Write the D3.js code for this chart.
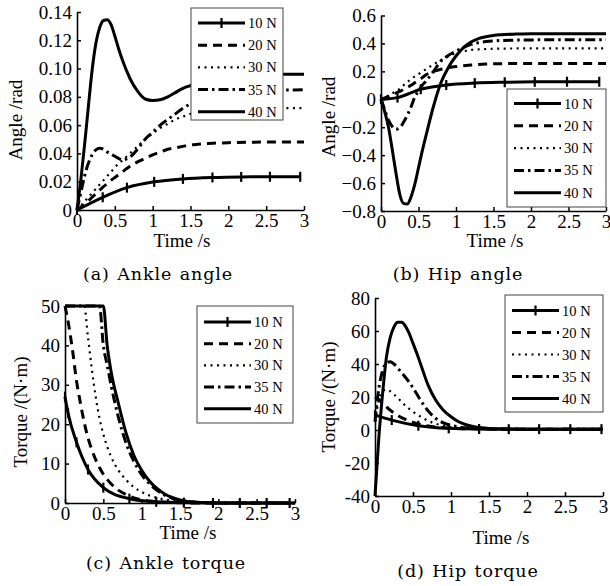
<!DOCTYPE html>
<html>
<head>
<meta charset="utf-8">
<script src="https://cdnjs.cloudflare.com/ajax/libs/d3/7.8.5/d3.min.js"></script>
<style>
    body { margin: 0; background: #fff; }
    svg { display: block; }
    .tick text { font-family: 'Liberation Serif', 'Times New Roman', serif; font-size: 19px; fill: #000; }
    .axis-label { font-family: 'Liberation Serif', 'Times New Roman', serif; font-size: 19px; fill: #000; }
    .legend-label { font-family: 'Liberation Serif', 'Times New Roman', serif; font-size: 14.5px; fill: #000; }
    .caption { font-family: 'DejaVu Serif', serif; font-size: 17.5px; letter-spacing: 0.9px; word-spacing: 1px; fill: #000; }
</style>
</head>
<body>
<svg id="fig" width="610" height="586"></svg>
<script>
/* ============================================================
   Joint angles and torques for five push forces
   ============================================================ */

const forces = ['10 N', '20 N', '30 N', '35 N', '40 N'];
const timeTicks = [0, 0.5, 1, 1.5, 2, 2.5, 3];

// shared time grid (s) for the 20 N .. 40 N curves
const timeGrid = [0, 0.05, 0.1, 0.15, 0.2, 0.25, 0.3, 0.35, 0.4, 0.45, 0.5, 0.55, 0.6,
    0.7, 0.8, 0.9, 1.0, 1.1, 1.2, 1.3, 1.4, 1.5, 1.6, 1.8, 2.0, 2.5, 3.0];

// --- (a) ankle angle, rad ---
const ankleAngleTicks = [0, 0.02, 0.04, 0.06, 0.08, 0.10, 0.12, 0.14];
const ankleAngle10t = [0, 0.34, 0.66, 1.02, 1.4, 1.79, 2.17, 2.55, 2.95];
const ankleAngle10 = [0, 0.009, 0.0158, 0.0199, 0.022, 0.023, 0.0234, 0.0235, 0.0235];
const ankleAngle20 = [0, 0.002, 0.004, 0.0065, 0.009, 0.0115, 0.014, 0.0165, 0.0186, 0.021, 0.023, 0.025, 0.027,
    0.031, 0.034, 0.0365, 0.039, 0.041, 0.043, 0.044, 0.045, 0.046, 0.0465, 0.0472, 0.0476, 0.048, 0.048];
const ankleAngle30 = [0, 0.003, 0.006, 0.009, 0.012, 0.015, 0.018, 0.021, 0.024, 0.027, 0.030, 0.033, 0.035,
    0.040, 0.045, 0.050, 0.054, 0.058, 0.061, 0.064, 0.066, 0.068, 0.069, 0.0705, 0.0715, 0.072, 0.072];
const ankleAngle35 = [0, 0.012, 0.024, 0.033, 0.039, 0.0425, 0.0437, 0.043, 0.041, 0.0395, 0.038, 0.0365, 0.0355,
    0.0375, 0.043, 0.050, 0.055, 0.060, 0.064, 0.068, 0.072, 0.075, 0.078, 0.081, 0.083, 0.0845, 0.085];
const ankleAngle40 = [0, 0.021, 0.046, 0.073, 0.099, 0.118, 0.129, 0.134, 0.1345, 0.131, 0.123, 0.114, 0.106,
    0.093, 0.084, 0.0785, 0.0775, 0.078, 0.080, 0.083, 0.086, 0.088, 0.090, 0.093, 0.095, 0.096, 0.096];

// --- (b) hip angle, rad ---
const hipAngleTicks = [-0.8, -0.6, -0.4, -0.2, 0, 0.2, 0.4, 0.6];
const hipAngle10t = [0, 0.22, 0.53, 0.87, 1.25, 1.65, 2.05, 2.48, 2.91];
const hipAngle10 = [0, 0.012, 0.072, 0.102, 0.116, 0.122, 0.125, 0.126, 0.126];
const hipAngle20 = [0, 0.01, 0.02, 0.032, 0.045, 0.057, 0.07, 0.085, 0.1, 0.118, 0.136, 0.155, 0.175,
    0.2, 0.215, 0.226, 0.234, 0.24, 0.245, 0.249, 0.252, 0.254, 0.255, 0.256, 0.257, 0.257, 0.257];
const hipAngle30 = [0, 0.012, 0.027, 0.042, 0.058, 0.075, 0.1, 0.122, 0.145, 0.163, 0.18, 0.2, 0.215,
    0.25, 0.28, 0.308, 0.33, 0.344, 0.353, 0.358, 0.36, 0.362, 0.363, 0.364, 0.365, 0.365, 0.365];
const hipAngle35 = [0, -0.077, -0.15, -0.195, -0.215, -0.205, -0.165, -0.115, -0.055, 0.015, 0.06, 0.1, 0.13,
    0.2, 0.275, 0.315, 0.345, 0.372, 0.393, 0.405, 0.413, 0.418, 0.421, 0.424, 0.425, 0.427, 0.427];
const hipAngle40 = [0, -0.09, -0.2, -0.36, -0.53, -0.68, -0.745, -0.75, -0.7, -0.61, -0.49, -0.37, -0.26,
    -0.05, 0.12, 0.23, 0.31, 0.37, 0.41, 0.435, 0.448, 0.457, 0.462, 0.467, 0.47, 0.47, 0.47];

// --- (c) ankle torque, N·m ---
const ankleTorqueTicks = [0, 10, 20, 30, 40, 50];
const ankleTorque10t = [0, 0.04, 0.15, 0.3, 0.5, 0.84, 1.19, 1.55, 1.93, 2.28, 2.63, 2.93];
const ankleTorque10 = [27, 22.8, 15.4, 8.5, 3.9, 1.1, 0.3, 0.1, 0, 0, 0, 0];
const ankleTorque20 = [50, 45, 38.5, 31, 25.5, 20.5, 16.5, 13.5, 11, 9, 7.3, 6, 4.9,
    3.2, 2.1, 1.3, 0.8, 0.5, 0.3, 0.2, 0.1, 0.05, 0, 0, 0, 0, 0];
const ankleTorque30 = [50, 50, 50, 50, 50, 50, 42, 34, 27, 21.5, 17.5, 14.3, 11.8,
    8.2, 5.8, 4.0, 2.8, 1.9, 1.3, 0.9, 0.6, 0.4, 0.25, 0.1, 0, 0, 0];
const ankleTorque35 = [50, 50, 50, 50, 50, 50, 50, 50, 50, 50, 40, 35, 30,
    21.5, 15, 10.5, 7.2, 4.9, 3.2, 2.0, 1.2, 0.7, 0.35, 0.1, 0, 0, 0];
const ankleTorque40 = [50, 50, 50, 50, 50, 50, 50, 50, 50, 50, 50, 40, 33.5,
    25, 17.5, 12, 8.3, 5.6, 3.7, 2.3, 1.4, 0.8, 0.4, 0.1, 0, 0, 0];

// --- (d) hip torque, N·m ---
const hipTorqueTicks = [-40, -20, 0, 20, 40, 60, 80];
const hipTorque10t = [0, 0.22, 0.57, 0.97, 1.37, 1.76, 2.16, 2.57, 2.98];
const hipTorque10 = [9, 6, 2.6, 1.0, 0.6, 0.5, 0.5, 0.5, 0.5];
const hipTorque20 = [20, 18.5, 16.2, 14, 12, 10.3, 8.8, 7.5, 6.4, 5.4, 4.6, 3.9, 3.3,
    2.4, 1.8, 1.4, 1.1, 0.9, 0.8, 0.7, 0.6, 0.55, 0.5, 0.5, 0.5, 0.5, 0.5];
const hipTorque30 = [5, 18, 23.5, 24.5, 23.5, 21.5, 19.5, 17, 14.8, 12.8, 11, 9.5, 8.1,
    5.5, 3.8, 2.6, 1.8, 1.3, 1, 0.8, 0.7, 0.6, 0.55, 0.5, 0.5, 0.5, 0.5];
const hipTorque35 = [5, 25, 36, 40.5, 41.4, 40, 37.5, 34.8, 32, 29, 25.5, 21.8, 18,
    11.5, 7, 4.3, 2.8, 1.9, 1.3, 1, 0.8, 0.7, 0.6, 0.55, 0.5, 0.5, 0.5];
const hipTorque40 = [-40, -5, 22, 44, 56, 62.5, 65.3, 65.3, 63, 58.5, 52.5, 46.5, 40,
    27, 18, 12, 8, 5, 3.2, 2, 1.3, 0.9, 0.7, 0.6, 0.5, 0.5, 0.5];

// line styles per force
const styles = {
    '10 N': { width: 3, dash: null, marker: true },
    '20 N': { width: 3, dash: '9,6', marker: false },
    '30 N': { width: 2.2, dash: '2,4.5', marker: false },
    '35 N': { width: 3, dash: '10,4,2.5,4', marker: false },
    '40 N': { width: 3, dash: null, marker: false }
};

const svg = d3.select('#fig');

function zip(ts, vs) { return ts.map((t, i) => [t, vs[i]]); }

function drawPanel(cfg) {
    const g = svg.append('g');
    const x = d3.scaleLinear().domain([0, 3]).range([cfg.x0, cfg.x1]);
    const y = d3.scaleLinear().domain(cfg.yDomain).range([cfg.yBot, cfg.yTop]);

    // axes: ticks point inward, no box
    const xAxis = g.append('g').attr('transform', `translate(0,${cfg.yBot})`)
        .call(d3.axisBottom(x).tickValues(timeTicks).tickSize(-4).tickSizeOuter(0)
            .tickPadding(3).tickFormat(d3.format('')));
    const yAxis = g.append('g').attr('transform', `translate(${cfg.x0},0)`)
        .call(d3.axisLeft(y).tickValues(cfg.yTicks).tickSize(-4).tickSizeOuter(0)
            .tickPadding(5).tickFormat(cfg.yFormat));
    [xAxis, yAxis].forEach(a => {
        a.select('.domain').attr('stroke', '#000').attr('stroke-width', 1.6);
        a.selectAll('.tick line').attr('stroke', '#000').attr('stroke-width', 1.5);
    });

    const line = d3.line()
        .x(d => x(d[0])).y(d => y(d[1]))
        .curve(d3.curveMonotoneX);

    // curves
    cfg.series.forEach(s => {
        const st = styles[s.force];
        g.append('path')
            .attr('d', line(s.points))
            .attr('fill', 'none')
            .attr('stroke', '#000')
            .attr('stroke-width', st.width)
            .attr('stroke-dasharray', st.dash);
        if (st.marker) {
            g.selectAll(null).data(s.points).enter().append('line')
                .attr('x1', d => x(d[0])).attr('x2', d => x(d[0]))
                .attr('y1', d => y(d[1]) - 5).attr('y2', d => y(d[1]) + 5)
                .attr('stroke', '#000').attr('stroke-width', 2.2);
        }
    });

    // legend
    const L = cfg.legend;
    const lg = g.append('g');
    lg.append('rect')
        .attr('x', L.x).attr('y', L.y).attr('width', L.w).attr('height', L.h)
        .attr('fill', '#fff').attr('stroke', '#444').attr('stroke-width', 1);
    forces.forEach((f, i) => {
        const st = styles[f];
        const ry = L.row0 + i * L.step;
        lg.append('line')
            .attr('x1', L.x + 7).attr('x2', L.x + 54)
            .attr('y1', ry).attr('y2', ry)
            .attr('stroke', '#000').attr('stroke-width', st.width)
            .attr('stroke-dasharray', st.dash);
        if (st.marker) {
            lg.append('line')
                .attr('x1', L.x + 30.5).attr('x2', L.x + 30.5)
                .attr('y1', ry - 5).attr('y2', ry + 5)
                .attr('stroke', '#000').attr('stroke-width', 2.2);
        }
        lg.append('text').attr('class', 'legend-label')
            .attr('x', L.x + 57).attr('y', ry + 5)
            .text(f);
    });

    // axis titles and caption
    g.append('text').attr('class', 'axis-label')
        .attr('transform', `translate(${cfg.yLabel[0]},${cfg.yLabel[1]}) rotate(-90)`)
        .attr('text-anchor', 'middle').attr('dy', '0.35em')
        .text(cfg.yTitle);
    g.append('text').attr('class', 'axis-label')
        .attr('x', cfg.xLabel[0]).attr('y', cfg.xLabel[1])
        .attr('text-anchor', 'middle')
        .text('Time /s');
    g.append('text').attr('class', 'caption')
        .attr('x', cfg.caption[0]).attr('y', cfg.caption[1])
        .attr('text-anchor', 'middle')
        .text(cfg.captionText);
}

function seriesSet(t10, v10, v20, v30, v35, v40) {
    return [
        { force: '10 N', points: zip(t10, v10) },
        { force: '20 N', points: zip(timeGrid, v20) },
        { force: '30 N', points: zip(timeGrid, v30) },
        { force: '35 N', points: zip(timeGrid, v35) },
        { force: '40 N', points: zip(timeGrid, v40) }
    ];
}

const minus = d => (d < 0 ? '\u2212' : '');

drawPanel({
    x0: 77, x1: 304, yTop: 12, yBot: 210,
    yDomain: [0, 0.14], yTicks: ankleAngleTicks,
    yFormat: d => d === 0 ? '0' : d.toFixed(2),
    series: seriesSet(ankleAngle10t, ankleAngle10, ankleAngle20, ankleAngle30, ankleAngle35, ankleAngle40),
    legend: { x: 191, y: 8, w: 92, h: 112, row0: 23, step: 22.2 },
    yTitle: 'Angle /rad', yLabel: [15, 120],
    xLabel: [182, 247], caption: [158, 280], captionText: '(a) Ankle angle'
});

drawPanel({
    x0: 381, x1: 606, yTop: 15.5, yBot: 211,
    yDomain: [-0.8, 0.6], yTicks: hipAngleTicks,
    yFormat: d => d === 0 ? '0' : minus(d) + Math.abs(d).toFixed(1),
    series: seriesSet(hipAngle10t, hipAngle10, hipAngle20, hipAngle30, hipAngle35, hipAngle40),
    legend: { x: 507, y: 89, w: 99, h: 118, row0: 103.5, step: 22.3 },
    yTitle: 'Angle /rad', yLabel: [328, 117],
    xLabel: [495, 247], caption: [458, 280], captionText: '(b) Hip angle'
});

drawPanel({
    x0: 65, x1: 295, yTop: 306, yBot: 503,
    yDomain: [0, 50], yTicks: ankleTorqueTicks,
    yFormat: d => String(d),
    series: seriesSet(ankleTorque10t, ankleTorque10, ankleTorque20, ankleTorque30, ankleTorque35, ankleTorque40),
    legend: { x: 197, y: 306, w: 96, h: 117, row0: 322, step: 21.7 },
    yTitle: 'Torque /(N\u00b7m)', yLabel: [20, 412],
    xLabel: [188, 539], caption: [166, 569], captionText: '(c) Ankle torque'
});

drawPanel({
    x0: 375, x1: 603, yTop: 298, yBot: 496,
    yDomain: [-40, 80], yTicks: hipTorqueTicks,
    yFormat: d => String(d),
    series: seriesSet(hipTorque10t, hipTorque10, hipTorque20, hipTorque30, hipTorque35, hipTorque40),
    legend: { x: 505, y: 295, w: 98, h: 117, row0: 310.5, step: 22 },
    yTitle: 'Torque /(N\u00b7m)', yLabel: [328, 397],
    xLabel: [501, 544], caption: [468, 577], captionText: '(d) Hip torque'
});
</script>
</body>
</html>
